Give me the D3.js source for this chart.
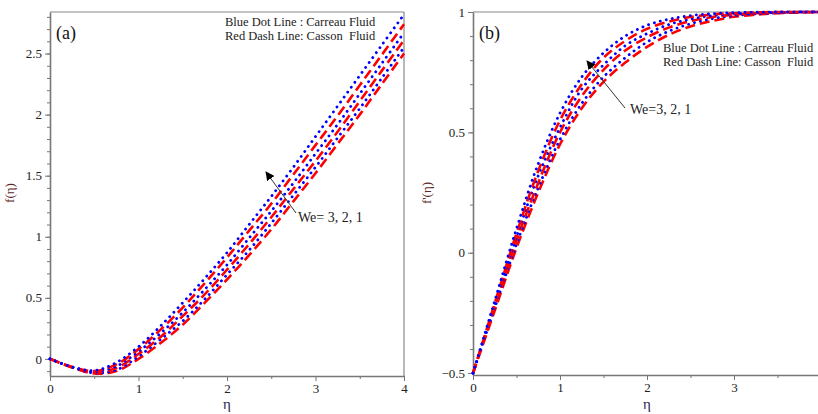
<!DOCTYPE html>
<html>
<head>
<meta charset="utf-8">
<script src="https://cdn.jsdelivr.net/npm/d3@7"></script>
<style>
  body { margin: 0; background: #fff; }
  svg { display: block; font-family: "Liberation Serif", "Times New Roman", serif; }
  .tick text { fill: #222; font-size: 13px; font-family: "Liberation Serif", "Times New Roman", serif; }
  .axis path, .axis line { stroke: #777; }
</style>
</head>
<body>
<script>
// eta grid shared by all curves
var eta = [0, 0.25, 0.5, 0.75, 1, 1.25, 1.5, 1.75, 2, 2.25, 2.5, 2.75, 3, 3.25, 3.5, 3.75, 4];

// panel (a): f(eta)
var fCarreau3 = [0, -0.065, -0.095, -0.03, 0.10, 0.27, 0.46, 0.66, 0.87, 1.10, 1.33, 1.57, 1.82, 2.07, 2.32, 2.57, 2.82];
var fCasson3  = [0, -0.066, -0.100, -0.045, 0.08, 0.24, 0.42, 0.62, 0.83, 1.05, 1.27, 1.51, 1.75, 1.99, 2.24, 2.49, 2.74];
var fCarreau2 = [0, -0.067, -0.105, -0.060, 0.06, 0.21, 0.38, 0.57, 0.77, 0.99, 1.21, 1.44, 1.68, 1.92, 2.17, 2.42, 2.67];
var fCasson2  = [0, -0.068, -0.110, -0.075, 0.04, 0.18, 0.35, 0.53, 0.73, 0.94, 1.16, 1.39, 1.62, 1.86, 2.11, 2.36, 2.61];
var fCarreau1 = [0, -0.069, -0.115, -0.090, 0.02, 0.16, 0.31, 0.49, 0.69, 0.89, 1.11, 1.34, 1.57, 1.81, 2.05, 2.30, 2.55];
var fCasson1  = [0, -0.070, -0.120, -0.100, 0.00, 0.13, 0.28, 0.46, 0.65, 0.85, 1.06, 1.29, 1.52, 1.76, 2.00, 2.25, 2.50];

// panel (b): f'(eta)
var dCarreau3 = [-0.5, -0.20, 0.10, 0.37, 0.58, 0.73, 0.83, 0.90, 0.945, 0.970, 0.985, 0.993, 0.997, 0.999, 1, 1, 1];
var dCasson3  = [-0.5, -0.21, 0.08, 0.34, 0.55, 0.70, 0.81, 0.88, 0.93, 0.960, 0.979, 0.990, 0.995, 0.998, 1, 1, 1];
var dCarreau2 = [-0.5, -0.215, 0.065, 0.32, 0.52, 0.68, 0.78, 0.86, 0.91, 0.948, 0.970, 0.985, 0.992, 0.996, 0.998, 1, 1];
var dCasson2  = [-0.5, -0.225, 0.05, 0.29, 0.50, 0.65, 0.76, 0.84, 0.895, 0.935, 0.962, 0.979, 0.989, 0.995, 0.998, 1, 1];
var dCarreau1 = [-0.5, -0.23, 0.035, 0.27, 0.47, 0.62, 0.73, 0.81, 0.875, 0.920, 0.951, 0.972, 0.985, 0.992, 0.996, 0.999, 1];
var dCasson1  = [-0.5, -0.24, 0.02, 0.25, 0.45, 0.60, 0.71, 0.79, 0.855, 0.905, 0.940, 0.963, 0.980, 0.989, 0.995, 0.998, 1];

var xTicks = [0, 1, 2, 3, 4];
var xMinor = [0.5, 1.5, 2.5, 3.5];

var W = 818, H = 414;
var svg = d3.select("body").append("svg").attr("width", W).attr("height", H);

var blue = "#0000ff", red = "#ff0000";

function seriesOf(arr) {
  return arr.map(function (v, i) { return [eta[i], v]; });
}

function panel(opts) {
  var x = d3.scaleLinear().domain([0, 4]).range(opts.xr);
  var y = d3.scaleLinear().domain(opts.yd).range(opts.yr);
  var g = svg.append("g");

  // frame (top and right edges)
  g.append("line").attr("x1", opts.xr[0]).attr("x2", Math.min(opts.xr[1], W))
    .attr("y1", opts.yr[1]).attr("y2", opts.yr[1]).attr("stroke", "#888").attr("stroke-width", 1.2);
  if (opts.xr[1] < W) {
    g.append("line").attr("x1", opts.xr[1]).attr("x2", opts.xr[1])
      .attr("y1", opts.yr[0]).attr("y2", opts.yr[1]).attr("stroke", "#888").attr("stroke-width", 1.2);
  }

  // minor ticks
  g.append("g").attr("class", "axis").attr("transform", "translate(0," + opts.yr[0] + ")")
    .call(d3.axisBottom(x).tickValues(xMinor).tickSize(3).tickFormat(""))
    .select(".domain").remove();
  g.append("g").attr("class", "axis").attr("transform", "translate(" + opts.xr[0] + ",0)")
    .call(d3.axisLeft(y).tickValues(opts.yMinor).tickSize(3).tickFormat(""))
    .select(".domain").remove();

  var xa = g.append("g").attr("class", "axis").attr("transform", "translate(0," + opts.yr[0] + ")")
    .call(d3.axisBottom(x).tickValues(xTicks).tickSize(5).tickPadding(3).tickSizeOuter(0)
      .tickFormat(function (d) { return d > opts.lastLabel ? "" : String(d); }));
  xa.select(".domain").attr("stroke-width", 1.6);
  var ya = g.append("g").attr("class", "axis").attr("transform", "translate(" + opts.xr[0] + ",0)")
    .call(d3.axisLeft(y).tickValues(opts.yTicks).tickSize(5).tickPadding(3).tickSizeOuter(0)
      .tickFormat(function (d) { return d < 0 ? "\u2212" + Math.abs(d) : String(d); }));
  ya.select(".domain").attr("stroke-width", 1.6);

  var line = d3.line().curve(d3.curveCatmullRom)
    .x(function (d) { return x(d[0]); }).y(function (d) { return y(d[1]); });

  opts.series.forEach(function (c) {
    g.append("path").datum(seriesOf(c.values))
      .attr("fill", "none")
      .attr("stroke", c.color)
      .attr("stroke-width", c.dash ? 2.6 : 2.8)
      .attr("stroke-linecap", c.dash ? "butt" : "round")
      .attr("stroke-dasharray", c.dash ? "10,5" : "0.1,6")
      .attr("d", line);
  });

  // axis labels
  g.append("text").attr("x", x(2)).attr("y", 409).attr("text-anchor", "middle")
    .attr("font-size", 15).attr("fill", "#2a2a55").text("\u03b7");
  g.append("text").attr("transform", "translate(" + opts.ylabX + ",193) rotate(-90)")
    .attr("text-anchor", "middle").attr("font-size", 13).attr("fill", "#5a2828").text(opts.ylab);

  g.append("text").attr("x", opts.xr[0] + 6).attr("y", 39).attr("font-size", 18)
    .attr("fill", "#111").text(opts.tag);

  return { x: x, y: y, g: g };
}

panel({
  xr: [50, 404], yd: [-0.14, 2.84], yr: [376, 12],
  yTicks: [0, 0.5, 1, 1.5, 2, 2.5],
  yMinor: d3.range(-0.1, 2.81, 0.1).map(function (v) { return +v.toFixed(1); }),
  ylab: "f(\u03b7)", ylabX: 14, tag: "(a)", lastLabel: 4,
  series: [
    { values: fCasson1, color: red, dash: true },
    { values: fCarreau1, color: blue, dash: false },
    { values: fCasson2, color: red, dash: true },
    { values: fCarreau2, color: blue, dash: false },
    { values: fCasson3, color: red, dash: true },
    { values: fCarreau3, color: blue, dash: false }
  ]
});

panel({
  xr: [473, 821], yd: [-0.508, 1], yr: [375, 12],
  yTicks: [-0.5, 0, 0.5, 1],
  yMinor: d3.range(-0.4, 0.95, 0.1).map(function (v) { return +v.toFixed(1); }),
  ylab: "f'(\u03b7)", ylabX: 431, tag: "(b)", lastLabel: 3,
  series: [
    { values: dCasson1, color: red, dash: true },
    { values: dCarreau1, color: blue, dash: false },
    { values: dCasson2, color: red, dash: true },
    { values: dCarreau2, color: blue, dash: false },
    { values: dCasson3, color: red, dash: true },
    { values: dCarreau3, color: blue, dash: false }
  ]
});

// legends and annotations
svg.append("defs").append("marker").attr("id", "arr").attr("viewBox", "0 0 10 10")
  .attr("refX", 9).attr("refY", 5).attr("markerWidth", 9).attr("markerHeight", 9)
  .attr("markerUnits", "userSpaceOnUse").attr("orient", "auto")
  .append("path").attr("d", "M0,0L10,5L0,10z").attr("fill", "#000");

function note(x, y, lines, size) {
  var t = svg.append("text").attr("font-size", size).attr("fill", "#222");
  lines.forEach(function (s, i) {
    t.append("tspan").attr("x", x).attr("y", y + i * 14).text(s);
  });
}
var legendLines = ["Blue Dot Line : Carreau Fluid", "Red Dash Line: Casson\u00a0 Fluid"];
note(225, 26, legendLines, 12.5);
note(663, 52, legendLines, 12.5);

svg.append("line").attr("x1", 296).attr("y1", 213).attr("x2", 266).attr("y2", 172)
  .attr("stroke", "#333").attr("stroke-width", 1).attr("marker-end", "url(#arr)");
svg.append("text").attr("x", 298).attr("y", 222).attr("font-size", 14).attr("fill", "#222").text("We= 3, 2, 1");

svg.append("line").attr("x1", 625).attr("y1", 108).attr("x2", 587).attr("y2", 61)
  .attr("stroke", "#333").attr("stroke-width", 1).attr("marker-end", "url(#arr)");
svg.append("text").attr("x", 630).attr("y", 114).attr("font-size", 14).attr("fill", "#222").text("We=3, 2, 1");
</script>
</body>
</html>
